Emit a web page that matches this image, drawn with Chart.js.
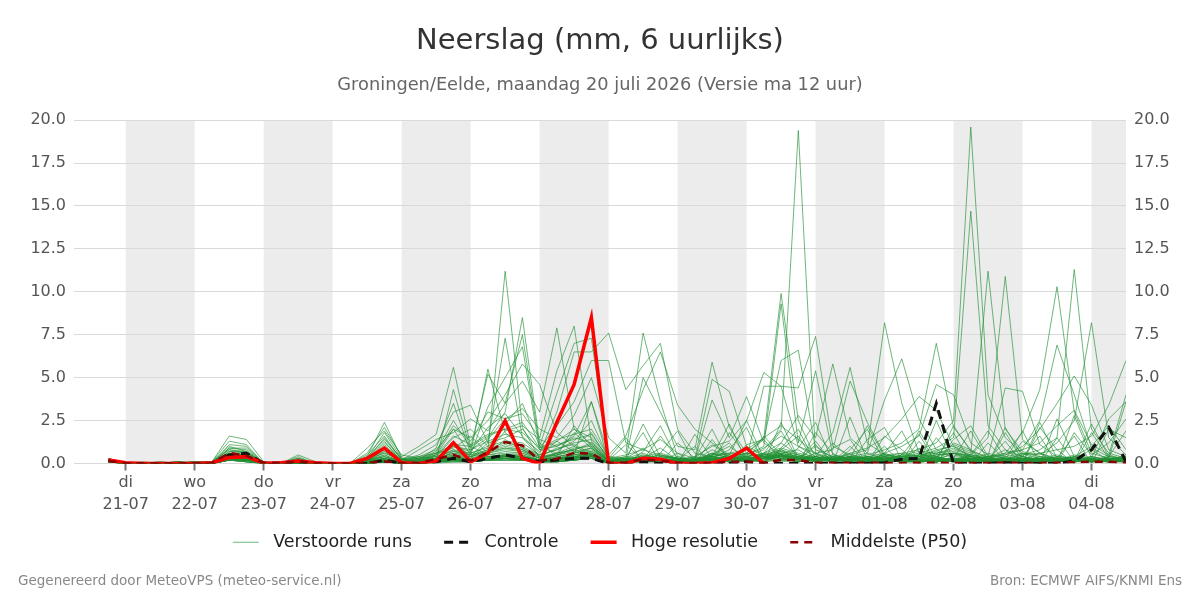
<!DOCTYPE html>
<html>
<head>
<meta charset="utf-8">
<title>Neerslag ensemble</title>
<script src="https://cdn.jsdelivr.net/npm/chart.js@4/dist/chart.umd.min.js"></script>
<style>
  html, body { margin: 0; padding: 0; background: #fff; }
  #wrap { width: 1200px; height: 600px; }
</style>
</head>
<body>
<div id="wrap"><canvas id="myChart" width="1200" height="600"></canvas></div>
<script>
// x axis: days after 21-07 00:00, one point every 6 hours from 20-07 18:00
const firstStep = -0.25;
const stepDays = 0.25;

const dayNames = ['di', 'wo', 'do', 'vr', 'za', 'zo', 'ma', 'di', 'wo', 'do', 'vr', 'za', 'zo', 'ma', 'di'];
const dayDates = ['21-07', '22-07', '23-07', '24-07', '25-07', '26-07', '27-07', '28-07', '29-07', '30-07', '31-07', '01-08', '02-08', '03-08', '04-08'];
const shadedDays = [0, 2, 4, 6, 8, 10, 12, 14];

const yTicks = [0, 2.5, 5, 7.5, 10, 12.5, 15, 17.5, 20];

// Hoge resolutie (ends 30-07 06:00)
const hresRun = [0.2,0.05,0,0,0,0,0.05,0.35,0.4,0.02, 0.05,0.15,0.05,0,0,0.3,0.9,0.05,0,0.15, 1.2,0.1,0.6,2.48,0.3,0,2.4,4.6,8.5,0, 0,0.3,0.25,0,0,0.05,0.3,0.9,0];

// Controle
const controlRun = [0.2,0,0,0,0,0,0,0.5,0.6,0, 0,0.1,0,0,0,0,0.2,0,0,0.1, 0.3,0.1,0.3,0.5,0.3,0.1,0.2,0.3,0.3,0, 0,0.1,0,0,0,0,0,0.1,0,0, 0,0,0,0,0,0.05,0.25,0.3,3.5,0, 0,0,0.05,0,0,0,0.15,0.8,2.1,0.1];

// Middelste (P50)
const medianRun = [0.15,0.02,0.02,0.02,0.02,0.02,0.02,0.62,0.45,0.05, 0.05,0.12,0.03,0,0,0.05,0.12,0.03,0.02,0.27, 0.5,0.17,0.66,1.25,1.05,0.17,0.27,0.62,0.57,0.05, 0.05,0.25,0.15,0.05,0.02,0.05,0.1,0.1,0.05,0.2, 0.2,0.05,0.05,0.05,0.05,0.03,0.03,0.05,0.05,0.03, 0.03,0.03,0.05,0.03,0.03,0.05,0.08,0.1,0.1,0.05];

// Verstoorde runs (50 members)
const ensembleRuns = [
  [0.2,0,0,0,0,0.1,0.1,1.6,1.4,0.1, 0,0.3,0,0,0,0.2,0.9,0.1,0,0.3, 1.2,0.4,0.8,11.2,2.1,0.3,0.6,1.8,0.9,0.1, 0.2,0.5,0.3,0.1,0,0.4,0.2,0.1,0.5,0.8, 0.3,0.1,0.2,0.6,0.1,0,0.2,0.1,0.4,0.1, 0.2,0.6,0.3,0.1,0,0.2,0.5,0.3,0.1,0.4],
  [0.1,0,0,0.1,0,0,0.1,1.3,1.1,0, 0,0.2,0,0,0,0.4,2.4,0.3,0.1,0.2, 4.3,0.8,1.5,3.0,8.5,1.2,0.4,2.2,1.0,0.2, 0.1,0.3,0.9,0.2,0.1,0.6,0.3,0.2,0.1,1.2, 0.5,0.3,0.1,0.2,0.4,0.2,0.1,0,0.3,0.2, 0.1,0.4,0.2,0.6,0.1,0.3,0.2,0.1,0.5,0.2],
  [0.3,0,0,0,0.1,0,0,1.1,1.0,0, 0,0.5,0.1,0,0,0.6,2.1,0.4,1.0,1.7, 5.6,1.0,0.5,1.4,0.8,0.3,0.2,0.5,3.6,0.1, 0,0.2,0.1,0.4,0.1,0.2,0.5,2.5,0.3,0.4, 0.2,1.0,0.3,0.2,0.1,0.6,0.3,0.2,0.1,0.4, 0.3,0.2,0.1,0.4,0.2,0.1,0.3,0.8,0.2,0.1],
  [0.2,0,0,0,0,0.1,0,0.9,0.8,0, 0,0.1,0,0,0,0.3,1.8,0.3,0.2,0.9, 3.5,0.6,5.5,1.8,0.9,0.5,1.3,0.7,0.4,0.1, 0.3,0.6,0.2,0.1,0.3,1.1,0.4,0.2,0.6,0.3, 0.1,0.2,0.5,0.3,0.2,0.1,0.4,0.3,0.1,0.2, 0.4,0.1,0.3,0.2,0.6,0.2,0.1,0.3,0.2,0.5],
  [0.2,0,0,0.1,0,0,0.1,1.0,0.7,0, 0,0.2,0,0,0,0.2,1.5,0.2,0.5,1.1, 3.0,3.4,1.2,7.3,1.5,0.4,0.9,1.1,0.6,0, 0.2,0.1,0.4,0.3,0.2,0.5,1.0,0.3,0.2,0.6, 0.8,0.2,0.3,0.1,0.4,0.2,0.1,0.5,0.2,0.1, 0.2,0.3,0.8,0.1,0.2,0.4,0.3,0.2,0.1,0.3],
  [0.1,0,0,0,0.1,0.1,0.1,0.8,0.7,0, 0,0.4,0,0,0,0.9,1.9,0.5,0.3,0.7, 2.5,0.9,5.2,3.5,7.5,1.0,0.6,0.8,0.5,0.1, 0.1,0.2,0.1,0.3,0.2,0.8,0.4,0.1,0.3,0.5, 0.2,0.6,0.1,0.2,0.3,0.1,0.5,0.2,0.3,0.1, 0.5,0.2,0.1,0.3,0.2,0.1,0.4,0.2,0.3,0.2],
  [0.2,0,0,0,0,0,0,0.7,0.6,0.1, 0,0.1,0,0,0,0.5,1.6,0.2,0.1,0.5, 2.0,0.5,3.3,5.0,6.8,0.8,1.0,1.5,1.2,0.2, 0.4,0.3,0.2,0.1,0.1,0.3,0.2,0.6,0.4,0.3, 0.1,0.3,0.2,0.4,0.1,0.2,0.3,0.1,0.2,0.6, 0.2,0.4,0.1,0.2,0.3,0.5,0.2,0.1,0.4,0.3],
  [0.2,0,0,0,0.1,0,0,0.6,0.5,0, 0,0.2,0,0,0,0.2,1.2,0.3,0.4,0.8, 2.0,1.5,2.5,4.0,5.8,4.6,1.8,1.0,0.5,0.1, 0.2,0.4,0.3,0.2,0.4,0.2,0.3,0.1,0.2,0.4, 0.3,0.1,0.4,0.2,0.1,0.3,0.2,0.4,0.1,0.2, 0.1,0.3,0.2,0.4,0.1,0.2,0.3,0.4,0.2,0.1],
  [0.1,0,0,0,0,0.1,0,0.5,0.6,0, 0,0.1,0,0,0,0.1,1.0,0.2,0.8,1.4, 1.8,2.6,1.9,3.5,4.8,3.0,7.9,2.0,1.1,0.1, 0.3,0.2,0.5,0.3,0.1,0.2,0.4,0.2,0.1,0.3, 0.2,0.4,0.1,0.3,0.2,0.1,0.2,0.3,0.4,0.1, 0.3,0.1,0.2,0.1,0.4,0.3,0.1,0.2,0.3,0.2],
  [0.2,0,0.1,0,0,0,0,0.9,0.9,0, 0,0.3,0,0,0,0.3,1.3,0.1,0.2,0.6, 2.2,1.3,3.0,2.6,2.9,1.5,5.4,8.0,1.3,0.2, 0.1,0.5,0.2,0.1,0.3,0.4,0.1,0.2,0.3,0.2, 0.4,0.2,0.3,0.1,0.2,0.4,0.1,0.2,0.3,0.2, 0.1,0.2,0.4,0.2,0.1,0.3,0.2,0.1,0.2,0.4],
  [0.2,0,0,0,0,0.1,0.1,0.8,0.6,0, 0,0.2,0,0,0,0.2,0.8,0.2,0.3,0.4, 1.5,2.0,1.0,2.3,3.5,1.0,4.1,7.0,7.3,0.3, 0.2,0.3,0.1,0.2,0.1,0.3,0.2,0.4,0.1,0.2, 0.1,0.3,0.2,0.1,0.4,0.2,0.3,0.1,0.2,0.3, 0.2,0.1,0.3,0.2,0.3,0.1,0.4,0.2,0.1,0.3],
  [0.1,0,0,0,0.1,0,0,0.7,0.7,0, 0,0.1,0,0,0,0.4,1.4,0.3,0.1,0.3, 1.0,0.7,2.1,2.9,1.6,0.6,3.0,6.5,6.5,7.6, 4.3,5.7,7.0,2.0,0.6,0.4,0.3,0.2,0.1,0.5, 0.3,0.2,0.1,0.3,0.2,0.1,0.2,0.4,0.1,0.2, 0.1,0.3,0.2,0.1,0.2,0.4,0.1,0.3,0.2,0.1],
  [0.2,0,0,0,0,0,0.1,0.6,0.4,0, 0,0.2,0,0,0,0.1,0.9,0.1,0.2,0.5, 1.6,1.1,1.7,2.0,2.4,0.9,2.2,3.6,6.0,6.0, 1.2,0.8,0.5,0.3,0.2,0.6,0.3,0.1,0.4,0.2, 0.2,0.1,0.3,0.2,0.1,0.3,0.2,0.1,0.3,0.2, 0.4,0.2,0.1,0.3,0.1,0.2,0.3,0.1,0.4,0.2],
  [0.3,0,0,0,0,0.1,0,0.5,0.5,0, 0,0.1,0,0,0,0.2,1.1,0.2,0.1,0.2, 1.3,0.4,1.4,2.6,3.2,2.0,1.5,2.8,5.0,1.5, 0.6,7.6,3.6,0.4,0.2,0.3,0.1,0.2,0.3,0.1, 0.2,0.4,0.2,0.1,0.3,0.2,0.1,0.2,0.1,0.3, 0.2,0.1,0.2,0.3,0.1,0.2,0.1,0.2,0.3,0.1],
  [0.2,0,0,0,0,0,0,0.4,0.5,0, 0,0.2,0,0,0,0.1,0.7,0.1,0.3,0.6, 0.9,1.6,0.6,1.9,2.2,1.4,1.0,1.6,3.6,0.5, 1.6,4.3,6.5,3.4,2.0,1.2,0.5,0.3,0.2,0.4, 0.1,0.3,0.2,0.4,0.2,0.1,0.3,0.2,0.1,0.2, 0.3,0.2,0.1,0.2,0.4,0.1,0.2,0.3,0.1,0.2],
  [0.2,0,0,0,0.1,0,0,0.6,0.4,0.1, 0,0.3,0,0,0,0.3,0.6,0.2,0.2,0.3, 0.8,0.3,1.2,1.5,2.0,0.8,1.3,2.0,1.5,0.4, 0.3,5.0,3.0,1.0,0.8,5.9,2.1,0.6,0.4,0.2, 0.3,0.2,0.1,0.3,0.2,0.4,0.1,0.2,0.3,0.1, 0.2,0.3,0.1,0.2,0.3,0.2,0.1,0.4,0.2,0.3],
  [0.1,0,0,0,0,0,0.1,0.5,0.3,0, 0,0.1,0,0,0,0.2,0.5,0.1,0.4,0.2, 0.7,0.6,0.9,1.2,1.0,0.5,0.8,1.3,2.5,0.3, 0.5,0.8,1.4,0.6,0.3,4.9,4.2,1.0,0.5,0.3, 0.4,0.2,0.3,0.1,0.2,0.3,0.2,0.1,0.4,0.2, 0.1,0.2,0.3,0.1,0.2,0.3,0.2,0.1,0.2,0.4],
  [0.2,0,0,0,0,0.1,0,0.4,0.4,0, 0,0.1,0,0,0,0.1,0.4,0.1,0.1,0.3, 0.6,0.5,0.7,1.0,0.8,0.4,0.6,1.0,1.8,0.2, 0.3,0.4,0.6,0.3,0.2,3.7,1.5,3.9,1.2,0.5, 0.3,0.1,0.2,0.4,0.1,0.2,0.3,0.2,0.1,0.2, 0.3,0.1,0.2,0.4,0.2,0.1,0.3,0.2,0.1,0.2],
  [0.2,0,0,0,0,0,0,0.3,0.3,0, 0,0.2,0,0,0,0.2,0.3,0.1,0.2,0.2, 0.5,0.4,0.6,0.9,0.7,0.3,0.5,0.8,1.2,0.3, 0.2,0.3,0.5,0.2,0.4,1.0,1.3,2.5,5.3,4.5, 1.0,0.6,0.3,0.2,0.1,0.3,0.2,0.1,0.2,0.3, 0.2,0.1,0.3,0.2,0.1,0.2,0.4,0.1,0.2,0.1],
  [0.1,0,0,0,0.1,0,0,0.4,0.3,0, 0,0.1,0,0,0,0.1,0.2,0.1,0.1,0.1, 0.4,0.2,0.5,0.7,0.6,0.2,0.4,0.6,0.9,0.1, 0.1,0.2,0.3,0.2,0.1,0.5,0.6,0.8,1.5,9.9, 2.5,0.3,0.2,0.1,0.3,0.2,0.1,0.2,0.1,0.3, 0.1,0.2,0.1,0.3,0.2,0.1,0.2,0.3,0.1,0.2],
  [0.2,0,0,0,0,0,0,0.3,0.2,0, 0,0.1,0,0,0,0,0.2,0,0.1,0.1, 0.3,0.1,0.4,0.5,0.4,0.2,0.3,0.4,0.6,0.1, 0.2,0.1,0.2,0.1,0.3,0.4,0.2,0.5,1.0,9.3, 1.2,5.4,0.5,0.3,0.2,0.1,0.2,0.1,0.3,0.2, 0.2,0.1,0.2,0.1,0.3,0.2,0.1,0.2,0.1,0.2],
  [0.1,0,0,0,0,0,0,0.2,0.2,0, 0,0,0,0,0,0,0.1,0,0,0.1, 0.2,0.1,0.3,0.4,0.3,0.1,0.2,0.3,0.5,0.1, 0.1,0.2,0.1,0.2,0.1,0.3,0.4,0.6,1.4,6.0, 6.6,0.8,0.4,0.2,0.1,0.2,0.1,0.3,0.2,0.1, 0.1,0.2,0.1,0.2,0.1,0.3,0.1,0.2,0.1,0.1],
  [0.2,0,0,0,0,0,0,0.2,0.1,0, 0,0,0,0,0,0,0.1,0,0,0, 0.1,0.1,0.2,0.3,0.2,0.1,0.1,0.2,0.3,0, 0.1,0.1,0.2,0.1,0.2,0.2,0.3,0.4,0.8,2.0, 19.4,0.5,0.3,0.2,0.1,0.3,0.2,0.1,0.2,0.1, 0.2,0.1,0.1,0.2,0.1,0.2,0.1,0.1,0.2,0.1],
  [0.1,0,0,0,0,0,0,0.2,0.2,0, 0,0,0,0,0,0,0.1,0,0,0.1, 0.2,0.1,0.2,0.3,0.3,0.1,0.2,0.2,0.4,0.1, 0.1,0.2,0.1,0.1,0.1,0.2,0.2,0.3,4.5,4.5, 4.4,7.4,1.0,0.5,0.3,0.2,0.1,0.2,0.1,0.2, 0.1,0.2,0.1,0.1,0.2,0.1,0.2,0.1,0.1,0.2],
  [0.2,0,0,0,0,0,0,0.3,0.2,0, 0,0.1,0,0,0,0.1,0.2,0.1,0.1,0.2, 0.3,0.2,0.4,0.5,0.5,0.2,0.3,0.5,0.7,0.2, 0.3,0.2,0.4,0.3,0.2,0.6,0.5,0.4,0.6,1.2, 2.8,1.5,5.8,1.5,0.6,0.3,0.2,0.1,0.2,0.3, 0.2,0.1,0.3,0.1,0.2,0.1,0.2,0.1,0.2,0.1],
  [0.1,0,0,0,0,0,0,0.3,0.3,0, 0,0.1,0,0,0,0.1,0.3,0.1,0.2,0.3, 0.4,0.3,0.5,0.6,0.6,0.3,0.4,0.6,0.8,0.2, 0.2,0.4,0.3,0.2,0.3,0.4,0.6,0.5,0.9,1.6, 1.0,0.4,1.8,5.6,1.2,0.5,0.3,0.2,0.1,0.2, 0.3,0.1,0.2,0.1,0.2,0.3,0.1,0.2,0.1,0.2],
  [0.2,0,0,0,0,0,0,0.4,0.3,0, 0,0.1,0,0,0,0.2,0.4,0.1,0.2,0.4, 0.7,0.5,0.8,1.1,0.9,0.4,0.5,0.9,1.0,0.2, 0.3,0.2,0.4,0.3,0.2,0.5,0.4,0.6,1.5,2.2, 1.4,0.6,0.8,4.8,2.4,0.5,0.3,0.2,0.4,0.2, 0.1,0.3,0.2,0.1,0.2,0.1,0.3,0.2,0.1,0.2],
  [0.1,0,0,0,0,0,0,0.3,0.2,0, 0,0.1,0,0,0,0.1,0.2,0,0.1,0.2, 0.3,0.2,0.3,0.5,0.4,0.2,0.3,0.4,0.5,0.1, 0.2,0.1,0.2,0.1,0.2,0.3,0.2,0.4,0.6,0.9, 0.6,0.4,0.3,0.5,0.8,8.2,3.5,0.6,0.3,0.2, 0.1,0.2,0.1,0.3,0.1,0.2,0.1,0.2,0.1,0.1],
  [0.2,0,0,0,0,0,0,0.2,0.2,0, 0,0,0,0,0,0,0.1,0,0.1,0.1, 0.2,0.1,0.2,0.3,0.2,0.1,0.2,0.3,0.4,0.1, 0.1,0.2,0.1,0.2,0.1,0.2,0.3,0.2,0.5,0.8, 0.5,0.3,0.2,0.4,0.6,3.7,6.1,2.6,0.8,0.3, 0.2,0.1,0.2,0.1,0.3,0.1,0.2,0.1,0.2,0.1],
  [0.1,0,0,0,0,0,0,0.2,0.1,0, 0,0,0,0,0,0,0.1,0,0,0.1, 0.1,0.1,0.2,0.2,0.2,0.1,0.1,0.2,0.3,0, 0.1,0.1,0.2,0.1,0.1,0.2,0.1,0.2,0.3,0.5, 0.4,0.2,0.3,0.6,0.9,1.5,2.6,3.9,3.1,1.0, 0.4,0.2,0.1,0.3,0.1,0.2,0.1,0.2,0.1,0.2],
  [0.2,0,0,0,0,0,0,0.3,0.2,0, 0,0.1,0,0,0,0.1,0.2,0.1,0.1,0.2, 0.3,0.2,0.3,0.4,0.4,0.2,0.3,0.4,0.6,0.1, 0.2,0.3,0.2,0.1,0.2,0.3,0.2,0.3,0.4,0.7, 0.5,0.3,0.2,0.3,0.5,0.8,1.2,2.0,7.0,2.1, 0.8,0.3,0.2,0.1,0.2,0.3,0.1,0.2,0.1,0.3],
  [0.1,0,0,0,0,0,0,0.2,0.2,0, 0,0,0,0,0,0,0.1,0,0.1,0.1, 0.2,0.1,0.2,0.3,0.3,0.1,0.2,0.3,0.4,0.1, 0.1,0.2,0.1,0.2,0.1,0.2,0.3,0.2,0.3,0.6, 0.4,0.2,0.3,0.2,0.4,0.6,1.0,1.6,4.6,4.0, 1.2,0.5,0.3,0.2,0.1,0.2,0.3,0.1,0.2,0.1],
  [0.2,0,0,0,0,0,0,0.3,0.2,0, 0,0.1,0,0,0,0.1,0.2,0,0.1,0.2, 0.3,0.1,0.3,0.4,0.3,0.2,0.3,0.3,0.5,0.1, 0.2,0.1,0.2,0.1,0.2,0.3,0.2,0.3,0.4,0.5, 0.3,0.2,0.4,0.3,0.2,0.4,0.6,0.8,1.2,2.5, 19.6,4.0,1.5,0.6,0.3,0.2,0.4,0.2,0.1,0.3],
  [0.1,0,0,0,0,0,0,0.2,0.1,0, 0,0,0,0,0,0,0.1,0,0,0.1, 0.2,0.1,0.2,0.2,0.2,0.1,0.1,0.2,0.3,0.1, 0.1,0.1,0.1,0.2,0.1,0.2,0.1,0.2,0.3,0.4, 0.3,0.2,0.3,0.2,0.3,0.5,0.4,0.6,0.9,1.5, 14.7,2.2,0.8,0.4,0.2,0.3,0.1,0.2,0.3,0.1],
  [0.2,0,0,0,0,0,0,0.3,0.2,0, 0,0.1,0,0,0,0.1,0.3,0.1,0.1,0.2, 0.4,0.2,0.4,0.5,0.4,0.2,0.3,0.5,0.6,0.2, 0.2,0.3,0.2,0.3,0.2,0.4,0.3,0.4,0.5,0.7, 0.4,0.3,0.2,0.4,0.3,0.5,0.6,0.4,0.8,1.0, 0.6,11.2,2.0,0.7,0.4,0.3,0.2,0.4,0.2,0.3],
  [0.1,0,0,0,0,0,0,0.2,0.2,0, 0,0,0,0,0,0,0.1,0,0.1,0.1, 0.2,0.1,0.2,0.3,0.2,0.1,0.2,0.2,0.4,0.1, 0.1,0.2,0.1,0.1,0.2,0.2,0.3,0.2,0.4,0.5, 0.3,0.2,0.3,0.2,0.4,0.3,0.5,0.7,0.6,0.9, 0.5,1.5,10.9,1.4,0.6,0.3,0.2,0.3,0.1,0.2],
  [0.2,0,0,0,0,0,0,0.3,0.3,0, 0,0.1,0,0,0,0.1,0.2,0.1,0.1,0.2, 0.3,0.2,0.3,0.4,0.4,0.2,0.3,0.4,0.5,0.1, 0.2,0.1,0.2,0.2,0.1,0.3,0.2,0.3,0.5,0.6, 0.3,0.4,0.2,0.3,0.2,0.4,0.3,0.5,0.7,1.1, 0.7,0.4,4.4,4.2,1.1,0.4,0.3,0.2,0.3,0.2],
  [0.1,0,0,0,0,0,0,0.2,0.2,0, 0,0,0,0,0,0,0.1,0,0.1,0.1, 0.2,0.1,0.2,0.3,0.3,0.1,0.2,0.3,0.4,0.1, 0.1,0.2,0.1,0.2,0.1,0.2,0.2,0.3,0.3,0.5, 0.3,0.2,0.4,0.3,0.2,0.3,0.4,0.5,0.6,0.8, 0.5,0.3,0.6,1.8,4.3,10.3,3.0,0.6,0.3,0.2],
  [0.2,0,0,0,0,0,0,0.3,0.2,0, 0,0.1,0,0,0,0.1,0.2,0,0.1,0.2, 0.3,0.2,0.3,0.4,0.3,0.2,0.3,0.3,0.5,0.1, 0.2,0.1,0.2,0.1,0.2,0.3,0.2,0.3,0.4,0.6, 0.4,0.3,0.2,0.4,0.3,0.2,0.5,0.4,0.6,0.7, 0.4,0.3,0.5,0.8,2.5,6.9,4.0,0.9,0.4,0.3],
  [0.1,0,0,0,0,0,0,0.2,0.1,0, 0,0,0,0,0,0,0.1,0,0,0.1, 0.1,0.1,0.2,0.2,0.2,0.1,0.1,0.2,0.3,0, 0.1,0.1,0.1,0.2,0.1,0.2,0.1,0.2,0.3,0.4, 0.3,0.2,0.2,0.3,0.2,0.3,0.4,0.3,0.5,0.6, 0.4,0.2,0.3,0.5,0.8,1.5,11.3,2.0,0.6,0.3],
  [0.2,0,0,0,0,0,0,0.3,0.3,0, 0,0.1,0,0,0,0.1,0.2,0.1,0.1,0.2, 0.3,0.2,0.3,0.4,0.4,0.2,0.3,0.4,0.5,0.1, 0.2,0.3,0.2,0.2,0.1,0.3,0.2,0.3,0.4,0.5, 0.3,0.2,0.3,0.4,0.3,0.2,0.4,0.3,0.5,0.6, 0.3,0.4,0.5,1.0,2.0,3.5,5.1,3.4,0.8,0.4],
  [0.1,0,0,0,0,0,0,0.2,0.2,0, 0,0,0,0,0,0,0.1,0,0.1,0.1, 0.2,0.1,0.2,0.3,0.2,0.1,0.2,0.2,0.4,0.1, 0.1,0.2,0.1,0.1,0.2,0.2,0.3,0.2,0.3,0.4, 0.2,0.3,0.2,0.3,0.2,0.3,0.2,0.4,0.3,0.5, 0.3,0.2,0.4,0.6,0.5,1.2,2.5,8.2,1.5,0.5],
  [0.2,0,0,0,0,0,0,0.3,0.2,0, 0,0.1,0,0,0,0.1,0.2,0,0.1,0.2, 0.3,0.2,0.3,0.4,0.3,0.2,0.3,0.3,0.5,0.1, 0.2,0.1,0.2,0.2,0.1,0.3,0.2,0.3,0.4,0.5, 0.3,0.4,0.2,0.3,0.4,0.2,0.3,0.5,0.4,0.6, 0.4,0.3,0.2,0.5,0.6,0.8,1.0,1.6,3.4,6.0],
  [0.1,0,0,0,0,0,0,0.2,0.1,0, 0,0,0,0,0,0,0.1,0,0,0.1, 0.2,0.1,0.2,0.2,0.2,0.1,0.1,0.2,0.3,0.1, 0.1,0.1,0.1,0.2,0.1,0.2,0.2,0.2,0.3,0.4, 0.3,0.2,0.3,0.2,0.3,0.4,0.3,0.4,0.5,0.6, 0.5,0.4,0.6,0.8,1.2,2.2,3.1,1.1,0.5,4.0],
  [0.2,0,0,0,0,0,0,0.4,0.3,0, 0,0.1,0,0,0,0.1,0.3,0.1,0.2,0.3, 0.5,0.3,0.6,0.8,0.7,0.3,0.5,0.7,0.9,0.2, 0.3,0.9,0.1,0.6,0,0.5,1.2,0,0.6,1.9, 0.2,1.1,0,0.8,2.0,0.1,0.5,1.7,0,1.2, 0.8,0,2.1,0.4,1.6,0,2.8,0.3,2.6,3.6],
  [0.1,0,0,0,0,0,0,0.3,0.3,0, 0,0.1,0,0,0,0.1,0.2,0.1,0.1,0.2, 0.4,0.2,0.4,0.5,0.5,0.2,0.4,0.5,0.7,0.2, 1.1,0.2,1.6,0.3,0,1.4,0.1,0.9,0,0.8, 1.6,0,1.2,0.3,2.2,0.4,0,1.9,0.3,1.8, 0,1.2,0.2,1.9,0,2.6,0.4,1.0,2.2,0.8],
  [0.2,0,0,0,0,0,0,0.4,0.4,0, 0,0.2,0,0,0,0.2,0.4,0.1,0.2,0.3, 0.6,0.4,0.7,0.9,0.8,0.3,0.6,0.8,1.1,0.2, 0.4,1.8,0,1.2,0.3,2.0,0,1.1,1.4,0.2, 0.9,2.4,0.1,1.0,0,1.6,0.8,0,1.5,0.3, 1.9,0.2,1.3,0,2.4,0.3,1.6,0,2.0,1.5],
  [0.1,0,0,0,0,0,0,0.5,0.4,0, 0,0.2,0,0,0,0.1,0.5,0.1,0.3,0.4, 0.8,0.6,1.0,1.3,1.2,0.5,0.8,1.2,1.4,0.3, 0,0.7,2.2,0.2,1.0,0,1.8,0.4,0,2.4, 0.3,1.3,0,2.7,0.2,1.0,0,1.3,0.1,2.2, 0.7,0,1.8,0.2,0,1.5,0.1,2.3,0.4,1.9],
  [0.2,0,0,0,0,0,0,0.5,0.5,0, 0,0.2,0,0,0,0.2,0.6,0.2,0.3,0.5, 1.0,0.8,1.3,1.7,1.5,0.7,1.1,1.4,1.7,0.3, 1.5,0.1,0.6,1.9,0,0.4,2.3,0.1,1.6,0.5, 0,1.8,0.6,0,1.4,2.1,0.2,0.9,0,1.4, 2.2,0.4,0,1.3,0.6,0,1.8,0.5,1.2,2.6],
  [0.1,0,0,0,0,0,0,0.6,0.5,0, 0,0.2,0,0,0,0.3,0.7,0.2,0.4,0.6, 1.1,1.0,1.6,2.0,1.8,0.9,1.4,1.7,2.0,0.4, 0.2,2.3,0.4,0,1.7,0.3,0.8,2.1,0,0.9, 2.0,0,0.9,1.4,0,0.6,1.9,0,2.5,0.2, 0.5,1.9,0.3,0,2.1,0.8,0,1.8,0.3,3.6]
];

const FONT = "'DejaVu Sans', 'Liberation Sans', sans-serif";
Chart.defaults.font.family = FONT;

function toPoints(values) {
  return values.map((v, i) => ({ x: firstStep + i * stepDays, y: v }));
}

const datasets = ensembleRuns.map(run => ({
  label: 'Verstoorde runs',
  data: toPoints(run),
  borderColor: 'rgba(34, 145, 52, 0.65)',
  backgroundColor: 'rgba(34, 145, 52, 0.65)',
  borderWidth: 1,
  order: 3
}));
datasets.push({
  label: 'Controle',
  data: toPoints(controlRun),
  borderColor: '#111111',
  backgroundColor: '#111111',
  borderWidth: 3,
  borderDash: [9, 6],
  order: 2
});
datasets.push({
  label: 'Hoge resolutie',
  data: toPoints(hresRun),
  borderColor: '#ff0000',
  backgroundColor: '#ff0000',
  borderWidth: 3.5,
  order: 1
});
datasets.push({
  label: 'Middelste (P50)',
  data: toPoints(medianRun),
  borderColor: '#8b0000',
  backgroundColor: '#8b0000',
  borderWidth: 2.5,
  borderDash: [8, 6],
  order: 0
});

const dayBands = {
  id: 'dayBands',
  beforeDraw(chart) {
    const { ctx, chartArea, scales } = chart;
    const x = scales.x;
    ctx.save();
    ctx.fillStyle = '#ececec';
    shadedDays.forEach(d => {
      const x0 = Math.max(x.getPixelForValue(d), chartArea.left);
      const x1 = Math.min(x.getPixelForValue(d + 1), chartArea.right);
      if (x1 > x0) ctx.fillRect(x0, chartArea.top, x1 - x0, chartArea.bottom - chartArea.top);
    });
    ctx.restore();
  }
};

const footer = {
  id: 'footer',
  afterDraw(chart) {
    const ctx = chart.ctx;
    ctx.save();
    ctx.font = '13.5px ' + FONT;
    ctx.fillStyle = '#888888';
    ctx.textBaseline = 'middle';
    ctx.textAlign = 'left';
    ctx.fillText('Gegenereerd door MeteoVPS (meteo-service.nl)', 18, 581);
    ctx.textAlign = 'right';
    ctx.fillText('Bron: ECMWF AIFS/KNMI Ens', 1182, 581);
    ctx.restore();
  }
};

// legend entries look like the line styles; trailing spaces widen the gap between entries
const lastLegendIndex = ensembleRuns.length + 2;
function legendLabels(chart) {
  const items = Chart.defaults.plugins.legend.labels.generateLabels(chart);
  items.forEach(item => {
    const ds = chart.data.datasets[item.datasetIndex];
    item.text = ' ' + item.text + (item.datasetIndex === lastLegendIndex ? '' : '   \u2009');
    item.lineWidth = ds.borderWidth;
    item.lineDash = ds.borderDash || [];
    item.strokeStyle = ds.borderColor;
  });
  return items;
}

const yTickOptions = {
  font: { size: 16 },
  color: '#555555',
  padding: 8,
  callback: v => v.toFixed(1)
};

document.addEventListener('DOMContentLoaded', function () {
  const ctx = document.getElementById('myChart');
  new Chart(ctx, {
    type: 'line',
    data: { datasets: datasets },
    plugins: [dayBands, footer],
    options: {
      responsive: false,
      animation: false,
      devicePixelRatio: 1,
      elements: { point: { radius: 0 }, line: { tension: 0 } },
      layout: { padding: { top: 0, bottom: 39, left: 0, right: 0 } },
      plugins: {
        tooltip: { enabled: false },
        title: {
          display: true,
          text: 'Neerslag (mm, 6 uurlijks)',
          color: '#333333',
          font: { size: 29, weight: 'normal' },
          padding: { top: 24, bottom: 9 }
        },
        subtitle: {
          display: true,
          text: 'Groningen/Eelde, maandag 20 juli 2026 (Versie ma 12 uur)',
          color: '#666666',
          font: { size: 17.8 },
          padding: { top: 7, bottom: 24 }
        },
        legend: {
          position: 'bottom',
          labels: {
            usePointStyle: true,
            pointStyle: 'line',
            pointStyleWidth: 26,
            color: '#222222',
            font: { size: 17.5 },
            padding: 12,
            generateLabels: legendLabels,
            filter: item => item.datasetIndex === 0 || item.datasetIndex >= ensembleRuns.length,
            sort: (a, b) => a.datasetIndex - b.datasetIndex
          }
        }
      },
      scales: {
        x: {
          type: 'linear',
          min: -0.75,
          max: 14.5,
          afterBuildTicks: scale => { scale.ticks = dayDates.map((d, i) => ({ value: i })); },
          afterFit: scale => { scale.height = 58; },
          ticks: {
            autoSkip: false,
            maxRotation: 0,
            padding: 2,
            color: '#555555',
            font: { size: 16, lineHeight: 1.35 },
            callback: v => [dayNames[v], dayDates[v]]
          },
          grid: { drawOnChartArea: false, drawTicks: true, tickLength: 7, tickColor: '#777777', tickWidth: 2 },
          border: { display: false }
        },
        y: {
          position: 'left',
          min: 0,
          max: 20,
          afterBuildTicks: scale => { scale.ticks = yTicks.map(v => ({ value: v })); },
          afterFit: scale => { scale.width = 74; },
          ticks: yTickOptions,
          grid: { color: '#d9d9d9', drawTicks: false },
          border: { display: false }
        },
        y2: {
          position: 'right',
          min: 0,
          max: 20,
          afterBuildTicks: scale => { scale.ticks = yTicks.map(v => ({ value: v })); },
          afterFit: scale => { scale.width = 74; },
          ticks: yTickOptions,
          grid: { drawOnChartArea: false, drawTicks: false },
          border: { display: false }
        }
      }
    }
  });
});
</script>
</body>
</html>
